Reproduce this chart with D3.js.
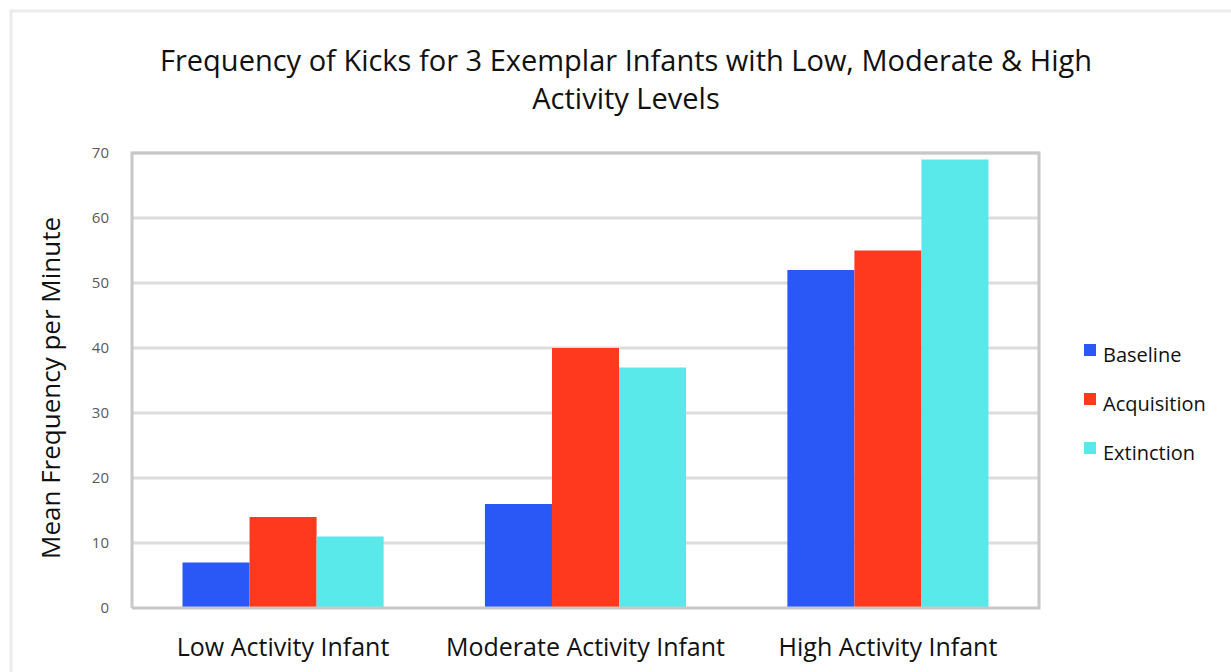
<!DOCTYPE html>
<html>
<head>
<meta charset="utf-8">
<script src="https://cdn.jsdelivr.net/npm/d3@7"></script>
<style>
    body { margin: 0; background: #fff; }
    text { font-family: "Open Sans", "Noto Sans", sans-serif; }
</style>
</head>
<body>
<div id="wide"></div>
<script>
// chart data
const categories = ["Low Activity Infant", "Moderate Activity Infant", "High Activity Infant"];
const seriesNames = ["Baseline", "Acquisition", "Extinction"];
const baseline = [7, 16, 52];
const acquisition = [14, 40, 55];
const extinction = [11, 37, 69];
const yTicks = [0, 10, 20, 30, 40, 50, 60, 70];
const titleLines = ["Frequency of Kicks for 3 Exemplar Infants with Low, Moderate & High", "Activity Levels"];

const colors = ["#2a58f6", "#ff391e", "#59e9eb"];

const W = 1231, H = 672;
const plot = { left: 132, top: 153, right: 1039, bottom: 608 };

const svg = d3.select("#wide")
    .append("svg")
    .attr("width", W)
    .attr("height", H);

// outer chart frame
svg.append("rect")
    .attr("x", 11).attr("y", 11)
    .attr("width", W + 20).attr("height", H + 20)
    .attr("fill", "#fff")
    .attr("stroke", "#ebebeb")
    .attr("stroke-width", 3);

// title
svg.append("text")
    .attr("x", 626).attr("y", 71)
    .attr("text-anchor", "middle")
    .attr("font-size", 29)
    .attr("fill", "#111")
    .selectAll("tspan")
    .data(titleLines)
    .enter().append("tspan")
    .attr("x", 626)
    .attr("dy", (d, i) => i == 0 ? 0 : 38)
    .text(d => d);

const x0 = d3.scaleBand()
    .domain(categories)
    .range([plot.left, plot.right])
    .paddingInner(0.335)
    .paddingOuter(0.167);

const x1 = d3.scaleBand()
    .domain(seriesNames)
    .range([0, x0.bandwidth()]);

const y = d3.scaleLinear()
    .domain([0, 70])
    .range([plot.bottom, plot.top]);

// gridlines
svg.append("g")
    .selectAll("line")
    .data(yTicks.filter(d => d > 0))
    .enter().append("line")
    .attr("x1", plot.left).attr("x2", plot.right)
    .attr("y1", d => y(d)).attr("y2", d => y(d))
    .attr("stroke", "#dcdcdc")
    .attr("stroke-width", 3);

// y axis tick labels
const yAxis = d3.axisLeft(y).tickValues(yTicks).tickSize(0).tickPadding(23);
svg.append("g")
    .attr("transform", "translate(" + plot.left + ",0)")
    .call(yAxis)
    .call(g => g.select(".domain").remove())
    .selectAll("text")
    .attr("font-size", 15)
    .attr("fill", "#5a5a5a")
    .attr("font-family", "\"Open Sans\", sans-serif");

// bars
const rows = categories.map((c, i) => ({
    cat: c,
    vals: [baseline[i], acquisition[i], extinction[i]]
}));

svg.append("g")
    .selectAll("g")
    .data(rows)
    .enter().append("g")
    .attr("transform", d => "translate(" + x0(d.cat) + ",0)")
    .selectAll("rect")
    .data(d => d.vals.map((v, j) => ({ name: seriesNames[j], v: v, j: j })))
    .enter().append("rect")
    .attr("x", d => x1(d.name))
    .attr("y", d => y(d.v))
    .attr("width", x1.bandwidth())
    .attr("height", d => y(0) - y(d.v))
    .attr("fill", d => colors[d.j]);

// plot frame: left, top, right, bottom
svg.append("path")
    .attr("d", "M" + plot.left + "," + plot.bottom + "V" + plot.top + "H" + plot.right + "V" + plot.bottom + "H" + plot.left)
    .attr("fill", "none")
    .attr("stroke", "#c8c8c8")
    .attr("stroke-width", 3);

// x axis labels
const xAxis = d3.axisBottom(x0).tickSize(0).tickPadding(30);
svg.append("g")
    .attr("transform", "translate(0," + plot.bottom + ")")
    .call(xAxis)
    .call(g => g.select(".domain").remove())
    .selectAll("text")
    .attr("font-size", 25)
    .attr("fill", "#111")
    .attr("font-family", "\"Open Sans\", sans-serif");

// y axis title
svg.append("text")
    .attr("transform", "translate(60,388) rotate(-90)")
    .attr("text-anchor", "middle")
    .attr("font-size", 26)
    .attr("fill", "#111")
    .text("Mean Frequency per Minute");

// legend
const legend = svg.append("g")
    .selectAll("g")
    .data(seriesNames)
    .enter().append("g")
    .attr("transform", (d, i) => "translate(1084," + (355 + i * 49) + ")");

legend.append("rect")
    .attr("x", 0).attr("y", -11)
    .attr("width", 12).attr("height", 12)
    .attr("fill", (d, i) => colors[i]);

legend.append("text")
    .attr("x", 19).attr("y", 7)
    .attr("font-size", 20)
    .attr("fill", "#111")
    .text(d => d);
</script>
</body>
</html>
